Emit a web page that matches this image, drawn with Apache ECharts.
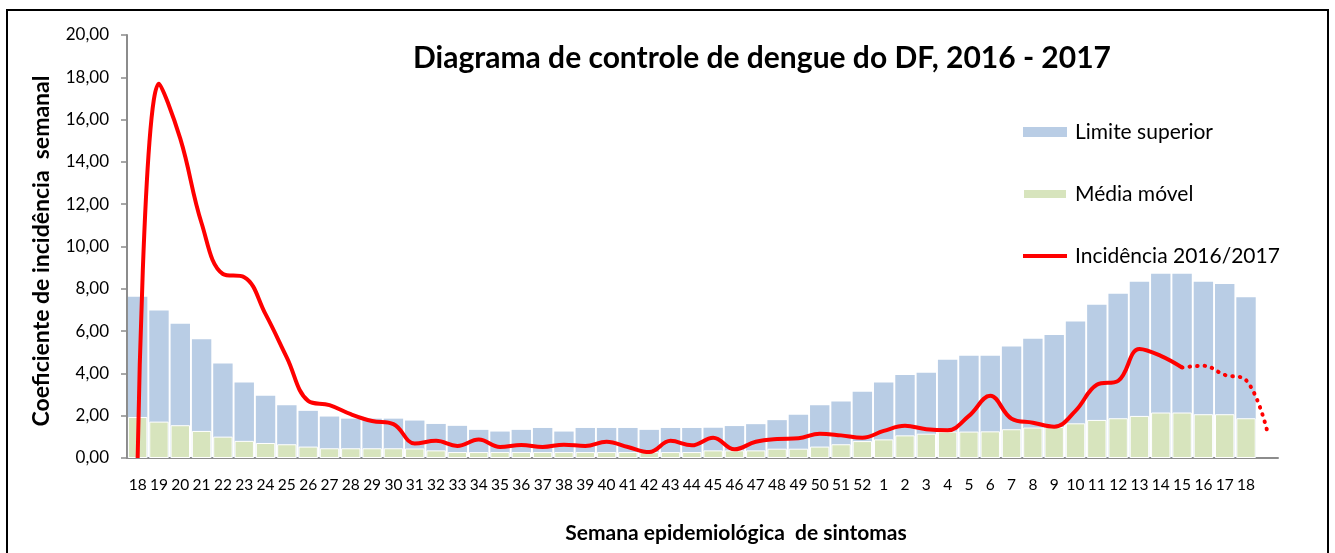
<!DOCTYPE html>
<html>
<head>
<meta charset="utf-8">
<script src="https://cdn.jsdelivr.net/npm/echarts@6/dist/echarts.min.js"></script>
<style>
html, body { margin: 0; padding: 0; background: #fff; }
#chart { width: 1335px; height: 553px; }
</style>
</head>
<body>
<div id="chart"></div>
<script>
// semanas epidemiológicas (a última categoria fica sem rótulo)
var semanas = ['18','19','20','21','22','23','24','25','26','27','28','29','30','31','32','33','34','35',
    '36','37','38','39','40','41','42','43','44','45','46','47','48','49','50','51','52',
    '1','2','3','4','5','6','7','8','9','10','11','12','13','14','15','16','17','18',''];

var limiteSuperior = [7.63, 6.97, 6.35, 5.62, 4.47, 3.57, 2.94, 2.50, 2.23, 1.96, 1.86, 1.86, 1.86, 1.77,
    1.61, 1.52, 1.33, 1.25, 1.33, 1.42, 1.25, 1.42, 1.42, 1.42, 1.33, 1.42, 1.42, 1.43, 1.51, 1.60,
    1.79, 2.05, 2.50, 2.67, 3.13,
    3.57, 3.93, 4.03, 4.64, 4.83, 4.83, 5.27, 5.64, 5.81, 6.45, 7.25, 7.77, 8.33, 8.71, 8.71, 8.33, 8.23, 7.60];

var mediaMovel = [1.94, 1.72, 1.55, 1.28, 1.01, 0.81, 0.71, 0.65, 0.54, 0.46, 0.46, 0.46, 0.46, 0.45,
    0.36, 0.28, 0.28, 0.28, 0.28, 0.28, 0.28, 0.28, 0.28, 0.28, 0.28, 0.28, 0.28, 0.36, 0.36, 0.36,
    0.44, 0.44, 0.54, 0.65, 0.80,
    0.88, 1.07, 1.15, 1.25, 1.25, 1.26, 1.36, 1.44, 1.47, 1.64, 1.80, 1.88, 1.99, 2.15, 2.15, 2.07, 2.07, 1.88];

var incidencia = [0, 17.7, 15.1, 11.1, 8.7, 8.55, 6.8, 4.75, 2.7, 2.5, 2.07, 1.75, 1.6, 0.69, 0.81, 0.57,
    0.87, 0.52, 0.62, 0.52, 0.63, 0.57, 0.77, 0.52, 0.28, 0.81, 0.6, 0.96, 0.41, 0.77, 0.9, 0.93, 1.15,
    1.07, 0.96, 1.28, 1.52, 1.36, 1.31, 1.99, 2.94, 1.86, 1.67, 1.48, 2.23, 3.46, 3.65, 5.15, 4.83, 4.28,
    4.36, 3.93, 3.68, 1.25];

// a partir da semana 15 os dados ainda não estão fechados (linha pontilhada)
var ultimaFechada = 49;

var fonte = 'Lato, "Noto Sans", sans-serif';

var incidenciaFechada = incidencia.map(function (v, i) { return i <= ultimaFechada ? v : '-'; });
var incidenciaAberta = incidencia.map(function (v, i) { return i >= ultimaFechada ? v : '-'; });

var myChart = echarts.init(document.getElementById('chart'));

var option = {
    animation: false,
    textStyle: { fontFamily: fonte, color: '#000' },
    title: {
        text: 'Diagrama de controle de dengue do DF, 2016 - 2017',
        left: 408,
        top: 38,
        textStyle: { fontFamily: fonte, fontSize: 30, fontWeight: 'bold', color: '#000' }
    },
    legend: {
        orient: 'vertical',
        left: 1022,
        top: 120,
        padding: 0,
        itemWidth: 44,
        itemHeight: 10,
        itemGap: 38,
        data: [
            { name: 'Limite superior', icon: 'rect' },
            { name: 'Média móvel', icon: 'rect' },
            { name: 'Incidência 2016/2017', icon: 'path://M0,0 L44,0 L44,4 L0,4 Z' }
        ],
        textStyle: { fontFamily: fonte, fontSize: 21, color: '#000', lineHeight: 24, padding: [0, 0, 0, 3] }
    },
    grid: { left: 127, right: 57, top: 35, bottom: 95 },
    xAxis: {
        type: 'category',
        data: semanas,
        axisLine: { lineStyle: { color: '#8c8c8c', width: 2 } },
        axisTick: { show: false },
        axisLabel: { interval: 0, margin: 19, fontSize: 15.5, color: '#000', fontFamily: fonte }
    },
    yAxis: {
        type: 'value',
        min: 0,
        max: 20,
        interval: 2,
        axisLine: { show: true, lineStyle: { color: '#8c8c8c', width: 2 } },
        axisTick: { show: true, length: 6, lineStyle: { color: '#8c8c8c', width: 1.5 } },
        splitLine: { show: false },
        axisLabel: {
            margin: 18,
            fontSize: 17,
            color: '#000',
            fontFamily: fonte,
            formatter: function (v) { return v.toFixed(2).replace('.', ','); }
        }
    },
    graphic: [
        {
            type: 'rect',
            shape: { x: 7, y: 10, width: 1321, height: 620 },
            style: { fill: 'none', stroke: '#000', lineWidth: 2 },
            silent: true
        },
        {
            type: 'text',
            x: 42,
            y: 251,
            rotation: Math.PI / 2,
            style: {
                text: 'Coeficiente de incidência  semanal',
                fontFamily: fonte,
                fontSize: 23,
                fontWeight: 'bold',
                fill: '#000',
                textAlign: 'center',
                textVerticalAlign: 'middle'
            }
        },
        {
            type: 'text',
            x: 736,
            y: 533,
            style: {
                text: 'Semana epidemiológica  de sintomas',
                fontFamily: fonte,
                fontSize: 21,
                fontWeight: 'bold',
                fill: '#000',
                textAlign: 'center',
                textVerticalAlign: 'middle'
            }
        }
    ],
    series: [
        {
            name: 'Limite superior',
            type: 'bar',
            data: limiteSuperior,
            barCategoryGap: '9%',
            barGap: '-100%',
            itemStyle: { color: '#b9cde5' }
        },
        {
            name: 'Média móvel',
            type: 'bar',
            data: mediaMovel,
            barCategoryGap: '9%',
            barGap: '-100%',
            itemStyle: { color: '#d7e4bd', borderColor: '#fff', borderWidth: 1 }
        },
        {
            name: 'Incidência 2016/2017',
            type: 'line',
            data: incidenciaFechada,
            smooth: 0.4,
            symbol: 'none',
            lineStyle: { color: '#ff0000', width: 4 },
            itemStyle: { color: '#ff0000' },
            z: 5
        },
        {
            name: 'incidencia_parcial',
            type: 'line',
            data: incidenciaAberta,
            smooth: 0.4,
            symbol: 'none',
            lineStyle: { color: '#ff0000', width: 4, type: [0.5, 7], cap: 'round' },
            z: 5
        }
    ]
};

myChart.setOption(option);
</script>
</body>
</html>
